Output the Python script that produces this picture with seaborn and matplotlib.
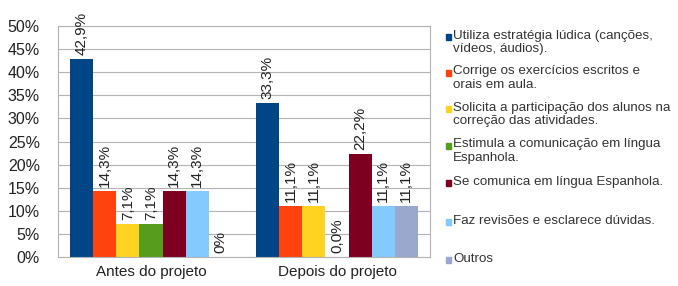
import matplotlib
matplotlib.use("Agg")
import matplotlib.pyplot as plt
import seaborn as sns
import pandas as pd
from matplotlib.patches import Rectangle

categories = ["Antes do projeto", "Depois do projeto"]
series = [
    "Utiliza estratégia lúdica (canções,\nvídeos, áudios).",
    "Corrige os exercícios escritos e\norais em aula.",
    "Solicita a participação dos alunos na\ncorreção das atividades.",
    "Estimula a comunicação em língua\nEspanhola.",
    "Se comunica em língua Espanhola.",
    "Faz revisões e esclarece dúvidas.",
    "Outros",
]
antes = [42.9, 14.3, 7.1, 7.1, 14.3, 14.3, 0.0]
depois = [33.3, 11.1, 11.1, 0.0, 22.2, 11.1, 11.1]
antes_labels = ["42,9%", "14,3%", "7,1%", "7,1%", "14,3%", "14,3%", "0%"]
depois_labels = ["33,3%", "11,1%", "11,1%", "0,0%", "22,2%", "11,1%", "11,1%"]
colors = ["#004586", "#ff420e", "#ffd320", "#579d1c", "#7e0021", "#83caff", "#99a8cc"]
yticks = [0, 5, 10, 15, 20, 25, 30, 35, 40, 45, 50]
ytick_labels = [f"{v}%" for v in yticks]

rows = []
for s, a, d in zip(series, antes, depois):
    rows.append({"cat": categories[0], "serie": s, "val": a})
    rows.append({"cat": categories[1], "serie": s, "val": d})
df = pd.DataFrame(rows)

sns.set_theme(style="white")
plt.rcParams["font.family"] = ["Liberation Sans", "DejaVu Sans"]
text_color = "#222222"

fig = plt.figure(figsize=(6.78, 2.86), dpi=100)
W, H = 678, 286
ax = fig.add_axes([58 / W, 1 - 257 / H, (430 - 58) / W, (257 - 26) / H])

sns.barplot(data=df, x="cat", y="val", hue="serie", order=categories,
            hue_order=series, palette=colors, width=0.87, saturation=1,
            legend=False, ax=ax, linewidth=0, edgecolor="none")

for i, cont in enumerate(ax.containers):
    ax.bar_label(cont, labels=[antes_labels[i], depois_labels[i]], rotation=90,
                 padding=3, fontsize=11, color=text_color)

ax.set_xlim(-0.5, 1.5)
ax.set_ylim(0, 50)
ax.set_yticks(yticks)
ax.set_yticklabels(ytick_labels, fontsize=11.5, color=text_color)
ax.set_xticks([0, 1])
ax.set_xticklabels(categories, fontsize=11, color=text_color)
ax.set_xticks([-0.5, 0.5, 1.5], minor=True)
ax.tick_params(axis="x", which="major", length=0, pad=6)
ax.tick_params(axis="x", which="minor", length=4, color="#b3b3b3", direction="out")
ax.tick_params(axis="y", length=5, color="#b3b3b3", direction="out", pad=8)
ax.set_xlabel("")
ax.set_ylabel("")
ax.yaxis.grid(True, color="#b3b3b3", linewidth=0.8)
ax.set_axisbelow(True)
for sp in ax.spines.values():
    sp.set_color("#b3b3b3")
    sp.set_linewidth(0.8)

# legend drawn manually to match the reference layout
centers = [37, 73, 109, 146, 183, 222, 260]
for c, lab, yc in zip(colors, series, centers):
    fig.patches.append(Rectangle((446 / W, 1 - (yc + 3) / H), 5 / W, 6 / H,
                                 transform=fig.transFigure, color=c))
    fig.text(453 / W, 1 - (yc - 7.5) / H, lab, va="top", ha="left",
             fontsize=9.6, color="#333333", linespacing=1.22)

fig.savefig("out.png", dpi=100)
